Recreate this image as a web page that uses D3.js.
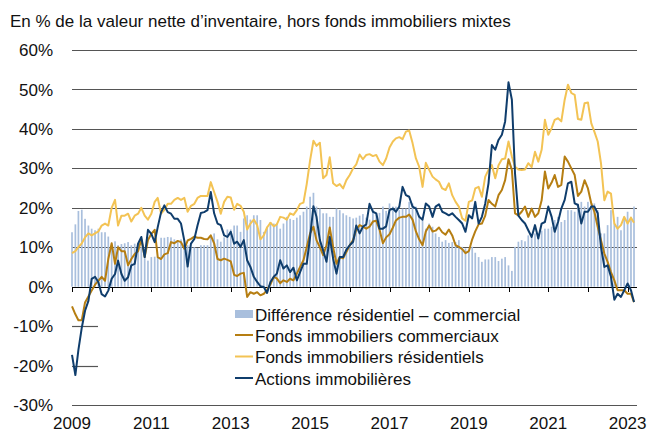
<!DOCTYPE html>
<html>
<head>
<meta charset="utf-8">
<script src="https://cdn.jsdelivr.net/npm/d3@7"></script>
<style>
  body { margin: 0; background: #fff; }
  svg { display: block; font-family: "Liberation Sans", Arial, Helvetica, sans-serif; }
</style>
</head>
<body>
<div id="chart"></div>
<script>
// monthly values, Jan 2009 .. Mar 2023 (171 months)
var startMonth = new Date(2009, 0, 1);

var residentiel = [
  8.5, 9, 10, 11, 12.5, 13.5, 13, 13.5, 14, 15.5, 16, 15.5,
  20, 22, 15.5, 18, 18, 18.5, 16.5, 18, 18.5, 20, 18, 17,
  18.5, 21.5, 22.5, 18.5, 19.5, 21, 21, 22, 22.5, 22, 22.5, 19,
  20.5, 21, 22.5, 23, 23, 23, 26.5, 24, 21.5, 18.5, 21.5, 22.8,
  22.6, 19.5, 21, 20.5, 19, 14.5, 16, 17, 15.6, 12, 13, 15,
  16.2, 15.3, 15.8, 17.7, 17.5, 17, 18.6, 18.2, 19.4, 21, 21.3, 26,
  32, 37, 35.7, 36.5, 27.5, 28.3, 32.8, 26.2, 25.5, 26, 24.9, 27,
  28.3, 30, 31, 33.5, 32.3, 33.4, 33.6, 33.1, 33.4, 31.7, 30.8, 32.5,
  35.3, 36.8, 37.6, 37.9, 37.4, 39.3, 39.6, 36.4, 32.5, 30.4, 25.3, 31.4,
  29.6, 27.9, 27.2, 26.6, 24.9, 24.5, 26.2, 23.2, 21.5, 20.3, 17.3, 16.7,
  21.5, 21.9, 24.9, 25.3, 22.8, 27.9, 29.6, 30.8, 27.5, 30.8, 32.3, 32.5,
  36.8, 33, 30.4, 29.7, 29.6, 29.7, 31.3, 30.3, 34.2, 31.7, 34.7, 42.3,
  38.5, 40.2, 42.3, 42.7, 41.9, 47.4, 51.2, 49.1, 48.6, 42.5, 42.3, 46.5,
  46.7, 41.4, 39.3, 36.8, 31.3, 21.9, 24.1, 23.6, 16, 14.7, 15.6, 17.7,
  16, 17.5, 16.2
];

var commerciaux = [
  -5, -7, -8.5, -8.5, -4, -2.5, -1, 0.5, 1.5, 2.5, 1.5, 7,
  11, 5.8, 10, 9, 9, 5.4, 7, 8.3, 9, 12, 7.5, 11.8,
  13.4, 14.4, 7.5, 7, 8.2, 8.5, 11.3, 11, 11.6, 11.3, 9.6, 11.7,
  12.1, 12.7, 12.4, 12.4, 12.1, 12, 13, 11, 7, 6.7, 7.1, 6.8,
  6.4, 3, 2.7, 3.3, 3.5, -2.6, -1.4, -1.8, -1.4, -2.2, -1.8, -0.8,
  0.6, 2.5, 2.1, 0.9, 1.6, 1.2, 2, 1.6, 3.3, 5, 6.7, 10,
  13.5, 15.2, 11.8, 10, 8, 10.5, 15, 10, 5.8, 7.5, 7.2, 8.8,
  10.5, 11.8, 14.5, 15.6, 15.2, 14.7, 15.2, 16.5, 16.7, 14.5, 11, 12.5,
  13.3, 15, 16.8, 17.5, 17.7, 17.7, 18.3, 17, 14, 12, 10.5, 14,
  15.5, 14, 14.2, 15, 13.8, 13.2, 14.5, 13, 10.5, 10.1, 9.5, 8.5,
  9, 12, 14, 15.8, 16, 18, 22, 21, 20.3, 23.2, 24.5, 27,
  32.3, 29.6, 18.6, 18.1, 19, 20.3, 17.7, 19.8, 17.7, 18.6, 21.9, 29.2,
  24.9, 26.4, 28.3, 25.3, 25.8, 33, 31.7, 30, 28.3, 23, 24.1, 27,
  24.9, 21.1, 19, 15.2, 11.8, 8.4, 6.3, 3.7, 1.6, -0.9, -0.9, -0.9,
  -1.8, -1.8, -3.9
];

var actions = [
  -17.3, -22.4, -16, -10.4, -6.1, -3.6, 2, 2.5, 1.1, -1.9, -2.5, -1,
  2, 3.2, 6.6, 3.2, 1.5, 2.4, 5.4, 5.8, 10.9, 12.6, 7.5, 14.4,
  13.4, 11.3, 15.1, 18.9, 20.6, 18.9, 18.5, 17.2, 17.2, 16, 11.6, 5.1,
  10.9, 12.1, 15.5, 18.7, 18.9, 19.4, 24, 18.6, 16, 15.6, 13, 12.6,
  13.9, 10.9, 11.4, 10.1, 11.8, 6.7, 5, 2.5, 1.2, 0.1, -0.1, -1.6,
  1.2, 2.5, 3.3, 6.7, 4.6, 5.4, 3.7, 4.8, 1.6, 3.7, 5.8, 5.8,
  12.6, 20.4, 17.7, 11.8, 9.2, 6.3, 12.6, 7.1, 3.3, 7.5, 7.5, 9.4,
  10.5, 11.4, 15.5, 13.5, 15.2, 15.8, 21, 19, 18.6, 14.7, 14.7, 15.3,
  19.4, 19.8, 19, 20.3, 25.3, 23.2, 22.8, 20.3, 19.8, 17.7, 17, 21.1,
  20.3, 17.7, 20.3, 20.9, 19, 18.6, 18.1, 18.6, 17.7, 16.9, 16, 13.9,
  18.1, 17.3, 21.5, 16, 17.7, 21.1, 26.2, 35.9, 34.7, 37.2, 38.5, 41.9,
  51.8, 47.4, 28.7, 18, 16.9, 16, 14.3, 12.6, 15.6, 12.2, 16, 16.4,
  20.3, 17.7, 13.9, 16.4, 19.8, 22, 26.2, 26.6, 21.1, 20.7, 16, 19,
  19, 20.3, 20.3, 18.6, 10.1, 5, 5.4, 2.5, -3.3, -1.8, -2.6, -0.9,
  0.8, -0.9, -3.9
];

var difference = [
  13.8, 15.8, 19.2, 19.5, 17.2, 15.5, 14.7, 14.3, 14.7, 13.8, 13.8, 12.7,
  10, 11.5, 10.5, 10.8, 11, 11.3, 10.5, 10.9, 11, 10, 9.6, 6.6,
  7.5, 7.6, 7.6, 12.4, 12.4, 12.6, 12.5, 12, 11.5, 12, 11, 10.5,
  10, 10, 9.8, 10.5, 10.5, 10.5, 12.7, 13.5, 12, 11.4, 12.5, 14.5,
  14.5, 15.5, 15.5, 13.9, 17.3, 18.1, 17, 18.1, 18.1, 16.9, 13.9, 15.2,
  16.4, 16, 16, 14.7, 16, 17.7, 17.2, 16.9, 17.5, 18.1, 19, 20.3,
  22.8, 23.8, 20.3, 19.8, 18.6, 18.6, 17.7, 17.7, 19.8, 19.4, 18.6, 18.1,
  17.7, 17.3, 17.5, 18, 18.4, 17.5, 17, 19.8, 18.5, 18.7, 20.3, 19.2,
  21.1, 20.3, 20.3, 19.4, 19.8, 19.8, 21.5, 21.1, 20.3, 18.1, 17, 14.7,
  16, 15.2, 13.5, 12.6, 11.4, 11.8, 11.1, 11.3, 11.3, 11.8, 10.1, 9.7,
  8.8, 10.1, 8.6, 7.5, 6.3, 6.9, 6.9, 7.5, 7.5, 6.5, 7.1, 7.5,
  5.4, 4, 10.1, 11.4, 11.8, 11.5, 13, 12.6, 13.5, 13.5, 14.2, 14.7,
  14.7, 15.2, 16.9, 17.7, 16.4, 16.9, 19.4, 19.4, 19, 21.1, 21.5, 20.3,
  21.5, 21.1, 21.1, 19.4, 13.5, 13.5, 15.6, 19.4, 16, 17.7, 14.3, 17.7,
  19, 17.7, 20.3
];

var yTicks = [60, 50, 40, 30, 20, 10, 0, -10, -20, -30];
var xYears = [2009, 2011, 2013, 2015, 2017, 2019, 2021, 2023];

var legendLabels = [
  "Différence résidentiel – commercial",
  "Fonds immobiliers commerciaux",
  "Fonds immobiliers résidentiels",
  "Actions immobilières"
];

var colors = {
  bar: "#a9bfdd",
  com: "#b67e12",
  res: "#f3c354",
  act: "#0f3d6c"
};

var svgWidth = 660, svgHeight = 433;
var left = 72, right = 637;
var fontSize = 17;

var months = difference.map(function(d, i) { return d3.timeMonth.offset(startMonth, i); });

var svg = d3.select("#chart").append("svg")
    .attr("width", svgWidth)
    .attr("height", svgHeight);

var x = d3.scaleTime()
    .domain([new Date(2009, 0, 1), new Date(2023, 0, 1)])
    .range([left, 627.6]);

var y = d3.scaleLinear()
    .domain([-30, 60])
    .range([405, 50]);

// title
svg.append("text")
    .attr("x", 10)
    .attr("y", 26.5)
    .attr("font-size", fontSize)
    .attr("fill", "#111")
    .text("En % de la valeur nette d’inventaire, hors fonds immobiliers mixtes");

// grid lines (short ones for -10 / -20)
svg.append("g").selectAll("line")
    .data(yTicks.filter(function(d) { return d !== 0; }))
  .enter().append("line")
    .attr("x1", left)
    .attr("x2", function(d) { return (d === -10 || d === -20) ? 98 : right; })
    .attr("y1", function(d) { return Math.round(y(d)) + 0.5; })
    .attr("y2", function(d) { return Math.round(y(d)) + 0.5; })
    .attr("stroke", "#555")
    .attr("stroke-width", 1.2);

// y labels
svg.append("g").selectAll("text")
    .data(yTicks)
  .enter().append("text")
    .attr("x", 53)
    .attr("y", function(d) { return y(d); })
    .attr("dy", "0.36em")
    .attr("text-anchor", "end")
    .attr("font-size", fontSize)
    .attr("fill", "#111")
    .text(function(d) { return d + "%"; });

// bars
var barW = 1.7;
svg.append("g").selectAll("rect")
    .data(difference)
  .enter().append("rect")
    .attr("x", function(d, i) { return x(months[i]) - barW / 2; })
    .attr("y", function(d) { return y(Math.max(0, d)); })
    .attr("width", barW)
    .attr("height", function(d) { return Math.abs(y(d) - y(0)); })
    .attr("fill", colors.bar);

// zero axis with yearly ticks
svg.append("line")
    .attr("x1", left).attr("x2", right)
    .attr("y1", Math.round(y(0)) + 0.5).attr("y2", Math.round(y(0)) + 0.5)
    .attr("stroke", "#000")
    .attr("stroke-width", 1.2);

svg.append("g").selectAll("line")
    .data(d3.range(2009, 2024))
  .enter().append("line")
    .attr("x1", function(d) { return Math.round(x(new Date(d, 0, 1))) + 0.5; })
    .attr("x2", function(d) { return Math.round(x(new Date(d, 0, 1))) + 0.5; })
    .attr("y1", Math.round(y(0)))
    .attr("y2", Math.round(y(0)) + 5)
    .attr("stroke", "#000")
    .attr("stroke-width", 1);

// x labels
svg.append("g").selectAll("text")
    .data(xYears)
  .enter().append("text")
    .attr("x", function(d) { return x(new Date(d, 0, 1)); })
    .attr("y", 429)
    .attr("text-anchor", "middle")
    .attr("font-size", fontSize)
    .attr("fill", "#111")
    .text(function(d) { return d; });

// lines
function drawLine(values, color) {
  var line = d3.line()
      .x(function(d, i) { return x(months[i]); })
      .y(function(d) { return y(d); });
  svg.append("path")
      .datum(values)
      .attr("fill", "none")
      .attr("stroke", color)
      .attr("stroke-width", 2)
      .attr("stroke-linejoin", "round")
      .attr("d", line);
}

drawLine(residentiel, colors.res);
drawLine(commerciaux, colors.com);
drawLine(actions, colors.act);

// legend
var legend = svg.append("g").attr("transform", "translate(235,0)");
var legendY = [314, 335, 356.5, 378];
var legendColors = [colors.bar, colors.com, colors.res, colors.act];

legendLabels.forEach(function(label, i) {
  if (i === 0) {
    legend.append("rect")
        .attr("x", 0).attr("y", legendY[i] - 4)
        .attr("width", 18).attr("height", 8)
        .attr("fill", legendColors[i]);
  } else {
    legend.append("line")
        .attr("x1", 0).attr("x2", 18)
        .attr("y1", legendY[i]).attr("y2", legendY[i])
        .attr("stroke", legendColors[i])
        .attr("stroke-width", 2);
  }
  legend.append("text")
      .attr("x", 20)
      .attr("y", legendY[i] + 6.5)
      .attr("font-size", fontSize)
      .attr("fill", "#111")
      .text(label);
});
</script>
</body>
</html>
